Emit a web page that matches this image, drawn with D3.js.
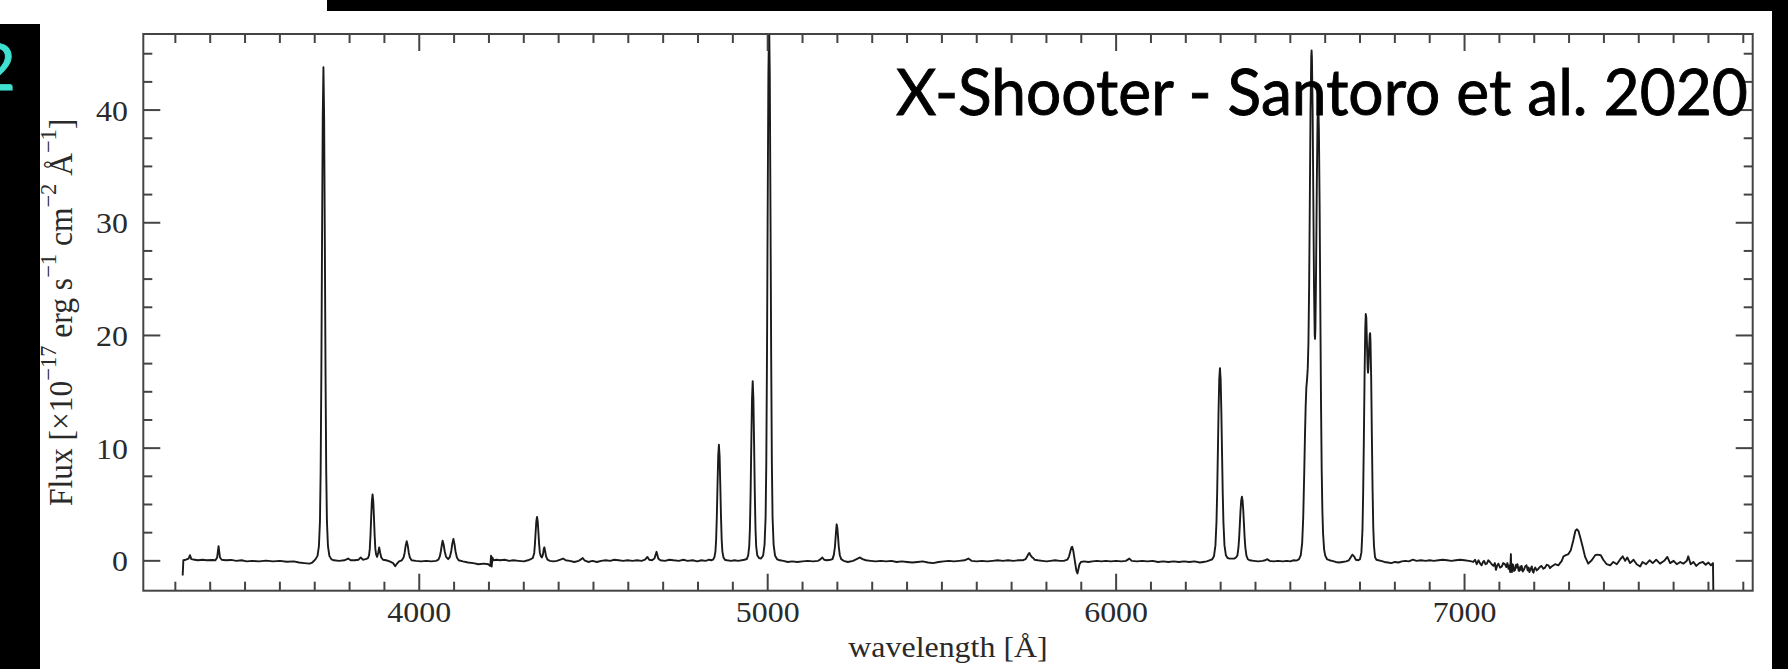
<!DOCTYPE html>
<html>
<head>
<meta charset="utf-8">
<script src="https://cdn.jsdelivr.net/npm/d3@7"></script>
<style>
  html, body { margin: 0; padding: 0; background: #fff; overflow: hidden; }
  svg { display: block; }
</style>
</head>
<body>
<svg id="chart" width="1788" height="669"></svg>
<script>
// Optical spectrum: wavelength in Å, flux in 1e-17 erg/s/cm2/Å
const wavelength = [
  3321, 3323, 3330, 3338, 3342, 3346, 3355, 3365, 3378, 3390, 3405, 3415, 3420, 3424, 3428, 3433,
  3445, 3460, 3475, 3490, 3505, 3520, 3540, 3560, 3580, 3600, 3620, 3640, 3655, 3670, 3685, 3693,
  3702, 3708, 3712, 3715, 3717, 3719, 3721, 3723, 3725, 3727, 3729, 3731, 3733, 3735, 3738, 3742, 3748,
  3755, 3770, 3785, 3796, 3803, 3815, 3826, 3832, 3838, 3846,
  3853, 3856, 3858, 3860, 3862, 3864, 3866, 3868, 3870, 3872, 3874, 3876, 3879, 3882, 3885, 3888, 3891,
  3896, 3905, 3915, 3925, 3931, 3935, 3942,
  3950, 3955, 3958, 3961, 3964, 3967, 3970, 3973, 3978, 3990, 4005, 4020, 4035, 4048,
  4055, 4059, 4062, 4065, 4067, 4070, 4073, 4077, 4083, 4088, 4092, 4095, 4098, 4101, 4104, 4108, 4113,
  4125, 4140, 4155, 4170, 4185, 4198, 4204, 4206, 4208, 4210, 4213, 4222, 4232, 4245, 4258, 4270, 4285,
  4300, 4312, 4320,
  4326, 4330, 4332, 4334, 4336, 4338, 4340, 4342, 4344, 4346, 4349, 4352, 4355, 4357, 4359, 4361, 4364, 4368,
  4375, 4385, 4395, 4405, 4413, 4420, 4432, 4445, 4458, 4465, 4469, 4474, 4485, 4497, 4510, 4522, 4535,
  4548, 4560, 4572, 4585, 4598, 4612, 4625, 4638, 4648, 4655, 4660, 4668, 4675, 4681, 4686, 4692, 4705,
  4718, 4730, 4745, 4758, 4770, 4785, 4798, 4810, 4822, 4832, 4838,
  4843, 4847, 4850, 4852, 4854, 4856, 4858, 4860, 4862, 4864, 4866, 4868, 4870, 4873, 4877, 4883,
  4895, 4905, 4915, 4925, 4933,
  4940, 4944, 4947, 4949, 4951, 4953, 4955, 4957, 4959, 4961, 4963, 4965, 4967, 4970, 4975, 4981,
  4987, 4991, 4994, 4996, 4998, 5000, 5002, 5004, 5006, 5008, 5010, 5012, 5014, 5017, 5021, 5027,
  5035, 5045, 5058, 5070, 5085, 5100, 5115, 5130, 5145, 5152, 5157, 5162, 5170, 5180,
  5186, 5190, 5193, 5195, 5197, 5198, 5200, 5202, 5204, 5207, 5211, 5218, 5230, 5245, 5258, 5265, 5272,
  5282, 5295, 5310, 5325, 5340, 5355, 5370, 5385, 5400, 5415, 5430, 5445, 5460, 5475, 5490, 5505,
  5520, 5535, 5550, 5565, 5576, 5585, 5600, 5615, 5630, 5645, 5660, 5675, 5690, 5705, 5720, 5732,
  5740, 5745, 5748, 5751, 5754, 5758, 5762, 5766, 5775, 5788, 5800, 5812, 5825, 5838, 5850,
  5860, 5865, 5869, 5872, 5874, 5877, 5880, 5883, 5886, 5889, 5892, 5895, 5899, 5908, 5920, 5932,
  5945, 5958, 5970, 5985, 6000, 6015, 6028, 6038, 6045, 6060, 6075, 6090, 6105, 6120, 6135, 6150,
  6165, 6180, 6195, 6210, 6225, 6240, 6250, 6260, 6268,
  6276, 6281, 6285, 6288, 6290, 6292, 6294, 6296, 6298, 6300, 6302, 6304, 6306, 6308, 6311, 6315,
  6320, 6326, 6333, 6339, 6344,
  6348, 6351, 6353, 6355, 6357, 6359, 6361, 6363, 6365, 6367, 6369, 6371, 6374, 6378, 6383,
  6395, 6408, 6420, 6428, 6434, 6440, 6452, 6465, 6478, 6490, 6500, 6508,
  6515, 6520, 6525, 6530, 6534, 6537, 6540, 6542, 6544, 6546, 6548, 6550, 6552, 6554, 6556, 6558,
  6560, 6561, 6562, 6564, 6566, 6568, 6570, 6571, 6572, 6574, 6576, 6578, 6580, 6582, 6584, 6586,
  6588, 6590, 6592, 6594, 6597, 6600, 6605, 6612,
  6620, 6630, 6640, 6650, 6660, 6668, 6673, 6678, 6683, 6688,
  6695, 6700, 6704, 6707, 6709, 6711, 6713, 6715, 6716.5, 6718, 6720, 6722, 6723, 6724, 6726, 6728,
  6729, 6730, 6732, 6734, 6736, 6738, 6740, 6743, 6747, 6753,
  6760, 6770, 6780, 6790, 6800, 6810, 6820, 6830, 6840, 6852, 6862, 6875, 6888, 6900, 6912, 6925,
  6938, 6950, 6962, 6975, 6988, 7000, 7012, 7020,
  7025, 7030, 7035, 7040, 7044,
  7049, 7053, 7056, 7060, 7064,
  7068, 7073, 7078, 7083, 7087,
  7090, 7094, 7097, 7102, 7107,
  7111, 7116, 7120, 7123, 7126,
  7128, 7131, 7133, 7134, 7136,
  7138, 7140, 7142, 7145, 7148,
  7150, 7152, 7155, 7157, 7160,
  7162, 7164, 7167, 7171, 7174,
  7178, 7181, 7184, 7186, 7190,
  7193, 7195, 7198, 7200, 7203,
  7207, 7212, 7216, 7221, 7226,
  7231, 7236, 7241, 7245, 7250,
  7260, 7269, 7279, 7284, 7291, 7298, 7305, 7312, 7318, 7322, 7327, 7332, 7339, 7346, 7355, 7365,
  7375, 7381, 7391, 7398, 7408, 7418, 7427, 7437, 7446, 7454, 7461, 7467, 7475, 7485, 7494, 7504,
  7511, 7521, 7531, 7540, 7550, 7561, 7573, 7582, 7590, 7600, 7609, 7619, 7628, 7638, 7642, 7649,
  7657, 7665, 7674, 7684, 7692, 7700, 7707, 7713, 7714
];

const flux = [
  -1.3, 0.05, 0.1, 0.2, 0.5, 0.15, 0.1, 0.05, 0.1, 0.05, 0.08, 0.05, 0.3, 1.3, 0.3, 0.1,
  0.05, 0.08, 0.0, 0.05, -0.05, 0.0, -0.05, 0.02, -0.05, 0.0, -0.08, -0.05, -0.15, -0.2, -0.25, -0.15,
  0.13, 0.44, 1.3, 3.5, 7.9, 16.6, 28.5, 39.4, 43.8, 39.4, 28.5, 16.6, 7.9, 3.5, 1.3, 0.44, 0.13,
  0.05, 0.0, 0.05, 0.2, 0.05, 0.05, 0.1, 0.3, 0.1, 0.15,
  0.25, 0.5, 1.06, 2.24, 3.84, 5.3, 5.9, 5.3, 3.84, 2.24, 1.06, 0.6, 0.35, 0.7, 1.18, 0.7, 0.3,
  0.1, 0.05, -0.05, -0.2, -0.47, -0.3, -0.05,
  0.05, 0.3, 0.7, 1.35, 1.75, 1.35, 0.7, 0.3, 0.05, 0.0, -0.05, 0.0, -0.05, 0.0,
  0.1, 0.4, 0.85, 1.45, 1.78, 1.45, 0.85, 0.35, 0.15, 0.35, 0.9, 1.55, 1.95, 1.5, 0.85, 0.3, 0.05,
  -0.05, -0.15, -0.2, -0.3, -0.25, -0.3, -0.45, 0.45, -0.5, 0.3, 0.05, 0.1, 0.05, 0.1, 0.0, 0.05, 0.0,
  -0.05, 0.05, 0.15,
  0.25, 0.7, 1.48, 2.54, 3.5, 3.9, 3.5, 2.54, 1.48, 0.75, 0.4, 0.3, 0.55, 1.0, 1.2, 0.9, 0.4, 0.1,
  0.0, -0.05, 0.0, 0.1, 0.2, 0.05, 0.0, -0.1, 0.0, 0.15, 0.25, 0.05, -0.1, 0.0, -0.1, 0.0, 0.05,
  0.0, 0.1, 0.05, 0.0, 0.05, 0.0, 0.05, 0.0, 0.1, 0.35, 0.1, 0.05, 0.2, 0.8, 0.2, 0.05, 0.0,
  0.1, 0.05, 0.0, 0.1, 0.0, 0.05, -0.05, 0.05, 0.0, 0.1, 0.05,
  0.1, 0.31, 0.82, 1.85, 3.9, 6.7, 9.27, 10.3, 9.27, 6.7, 3.9, 1.85, 0.82, 0.31, 0.1, 0.05,
  0.0, 0.05, 0.0, 0.05, 0.1,
  0.16, 0.48, 1.28, 2.87, 6.06, 10.4, 14.35, 15.95, 14.35, 10.4, 6.06, 2.87, 1.28, 0.5, 0.25, 0.2,
  0.48, 1.44, 3.84, 8.64, 18.2, 31.2, 43.2, 48.0, 43.2, 31.2, 18.2, 8.64, 3.84, 1.44, 0.48, 0.14,
  0.05, 0.0, -0.1, -0.05, -0.1, -0.05, 0.0, -0.05, 0.0, 0.15, 0.3, 0.1, 0.05, 0.1,
  0.15, 0.55, 1.25, 2.1, 2.9, 3.24, 2.9, 2.1, 1.25, 0.5, 0.15, 0.0, -0.1, 0.0, 0.2, 0.3, 0.15,
  0.05, 0.0, -0.05, 0.0, -0.05, 0.0, -0.1, -0.05, -0.1, -0.15, -0.1, -0.05, -0.15, -0.2, -0.1, -0.05,
  0.0, -0.05, 0.0, 0.05, 0.2, 0.0, -0.05, 0.0, -0.05, 0.0, 0.05, 0.0, 0.05, 0.0, 0.05, 0.05,
  0.15, 0.4, 0.6, 0.7, 0.5, 0.35, 0.25, 0.1, 0.05, 0.0, -0.05, 0.0, 0.05, 0.0, 0.0,
  0.1, 0.4, 0.9, 1.2, 1.24, 0.9, 0.3, -0.3, -0.9, -1.12, -0.7, -0.3, -0.1, -0.05, -0.1, -0.05,
  0.0, -0.05, 0.0, -0.05, 0.0, -0.05, 0.0, 0.2, 0.0, -0.05, 0.0, -0.05, 0.0, -0.1, -0.05, -0.1,
  -0.05, -0.1, -0.05, -0.1, -0.05, -0.15, -0.1, -0.05, 0.05,
  0.14, 0.43, 1.37, 3.4, 6.0, 9.6, 13.3, 16.1, 17.1, 16.1, 13.3, 9.6, 6.0, 3.4, 1.37, 0.5,
  0.25, 0.2, 0.2, 0.2, 0.3,
  0.46, 1.14, 1.99, 3.19, 4.44, 5.35, 5.69, 5.35, 4.44, 3.19, 1.99, 1.14, 0.46, 0.14, 0.05,
  0.0, -0.05, 0.0, 0.05, 0.15, 0.0, -0.05, 0.0, -0.05, 0.0, -0.05, 0.05,
  0.03, 0.05, 0.15, 0.5, 1.6, 3.85, 7.95, 11.1, 13.7, 15.4, 16.1, 17.1, 19.4, 24.5, 32.2, 40.2,
  44.7, 45.3, 44.6, 40.0, 32.1, 24.3, 20.0, 19.7, 20.7, 26.1, 33.4, 39.0, 41.0, 38.3, 31.7, 22.8,
  14.2, 8.1, 4.4, 2.4, 1.0, 0.48, 0.16, 0.05,
  0.0, -0.1, -0.15, -0.1, -0.05, 0.05, 0.3, 0.55, 0.4, 0.1,
  0.05, 0.15, 0.75, 2.7, 6.0, 10.7, 16.2, 20.5, 21.9, 21.6, 19.2, 17.1, 16.7, 17.1, 18.8, 20.1,
  20.2, 19.55, 16.3, 11.1, 6.4, 3.0, 1.36, 0.33, 0.1, 0.05,
  0.0, -0.1, -0.15, -0.2, -0.1, -0.15, -0.05, 0.0, -0.05, 0.1, 0.0, 0.05, 0.0, 0.05, 0.0, 0.05,
  0.1, 0.05, 0.0, 0.05, 0.1, 0.05, 0.0, -0.05,
  -0.1, 0.1, -0.3, 0.05, -0.2,
  -0.4, -0.1, 0.0, -0.3, -0.25,
  0.05, -0.1, -0.3, -0.45, -0.2,
  -0.8, -0.4, -0.25, -0.6, -0.5,
  -0.2, -0.3, -0.55, -0.2, -0.7,
  -0.4, -1.0, 0.6, -0.6, -1.0,
  -0.3, -0.4, -0.9, -0.8, -0.35,
  -0.6, -0.3, -0.85, -0.9, -0.5,
  -0.8, -0.45, -0.95, -0.75, -0.5,
  -0.4, -0.85, -0.6, -1.0, -0.7,
  -0.5, -0.9, -1.05, -0.75, -0.6,
  -0.85, -0.7, -0.55, -0.45, -0.7,
  -0.6, -0.35, -0.4, -0.65, -0.5,
  -0.3, -0.4, 0.0, 0.4, 0.5, 0.6, 0.95, 1.8, 2.65, 2.8, 2.65, 2.1, 1.25, 0.35, -0.25, 0.05,
  0.5, 0.55, 0.5, 0.1, -0.3, -0.4, -0.1, -0.3, 0.1, 0.4, 0.0, 0.3, -0.2, 0.1, -0.3, -0.5,
  -0.1, -0.3, 0.05, -0.2, 0.1, -0.25, 0.0, 0.35, -0.2, 0.0, -0.3, -0.1, -0.25, 0.0, 0.4, -0.3,
  -0.1, -0.45, -0.2, -0.1, -0.35, -0.15, -0.4, -0.2, -2.7
];

// Axis ticks
const xMajorTicks = [4000, 5000, 6000, 7000];
const xMinorTicks = d3.range(3300, 7801, 100);
const yMajorTicks = [0, 10, 20, 30, 40];
const yMinorTicks = d3.range(0, 45.1, 2.5);

const titleText = "X-Shooter - Santoro et al. 2020";

const svg = d3.select("#chart");
const W = 1788, H = 669;
const frame = { left: 143.3, right: 1752.7, top: 34, bottom: 590.7 };

const x = d3.scaleLinear().domain([3208, 7827]).range([frame.left, frame.right]);
const y = d3.scaleLinear().domain([-2.65, 46.75]).range([frame.bottom, frame.top]);

const axisColor = "#444";
const textColor = "#2a2a2a";
const serif = "'Liberation Serif', 'Times New Roman', serif";
const stretch = 1.12;

svg.append("rect").attr("width", W).attr("height", H).attr("fill", "#fff");

// Plot clip region
svg.append("defs").append("clipPath").attr("id", "plotArea")
  .append("rect")
  .attr("x", frame.left).attr("y", frame.top)
  .attr("width", frame.right - frame.left).attr("height", frame.bottom - frame.top);

// Spectrum line
const points = wavelength.map((w, i) => [w, flux[i]]);
const line = d3.line().x(d => x(d[0])).y(d => y(d[1]));
svg.append("path")
  .datum(points)
  .attr("clip-path", "url(#plotArea)")
  .attr("d", line)
  .attr("fill", "none")
  .attr("stroke", "#1a1a1a")
  .attr("stroke-width", 1.9)
  .attr("stroke-linejoin", "round");

// Ticks (inward on all four sides)
const gTicks = svg.append("g").attr("stroke", axisColor).attr("stroke-width", 2);
function tickLen(isMajor) { return isMajor ? 17 : 9; }
xMinorTicks.forEach(v => {
  const major = xMajorTicks.includes(v);
  const px = x(v);
  gTicks.append("line").attr("x1", px).attr("x2", px)
    .attr("y1", frame.bottom).attr("y2", frame.bottom - tickLen(major));
  gTicks.append("line").attr("x1", px).attr("x2", px)
    .attr("y1", frame.top).attr("y2", frame.top + tickLen(major));
});
yMinorTicks.forEach(v => {
  const major = yMajorTicks.includes(v);
  const py = y(v);
  gTicks.append("line").attr("y1", py).attr("y2", py)
    .attr("x1", frame.left).attr("x2", frame.left + tickLen(major));
  gTicks.append("line").attr("y1", py).attr("y2", py)
    .attr("x1", frame.right).attr("x2", frame.right - tickLen(major));
});

// Frame
svg.append("rect")
  .attr("x", frame.left).attr("y", frame.top)
  .attr("width", frame.right - frame.left).attr("height", frame.bottom - frame.top)
  .attr("fill", "none").attr("stroke", axisColor).attr("stroke-width", 2);

// Tick labels
svg.append("g").selectAll("text").data(xMajorTicks).join("text")
  .attr("transform", d => `translate(${x(d)},621.5) scale(${stretch},1)`)
  .attr("text-anchor", "middle")
  .attr("font-family", serif).attr("font-size", 28.5)
  .attr("fill", textColor)
  .text(d => d);

svg.append("g").selectAll("text").data(yMajorTicks).join("text")
  .attr("transform", d => `translate(128,${y(d) + 10.5}) scale(${stretch},1)`)
  .attr("text-anchor", "end")
  .attr("font-family", serif).attr("font-size", 28.5)
  .attr("fill", textColor)
  .text(d => d);

// Axis titles
svg.append("text")
  .attr("transform", `translate(${(frame.left + frame.right) / 2},657) scale(${stretch},1)`)
  .attr("text-anchor", "middle")
  .attr("font-family", serif).attr("font-size", 28.5)
  .attr("fill", textColor)
  .text("wavelength [Å]");

const yTitle = svg.append("text")
  .attr("transform", `translate(71.5,${(frame.top + frame.bottom) / 2}) rotate(-90) scale(1,1.04)`)
  .attr("text-anchor", "middle")
  .attr("font-family", serif).attr("font-size", 31.5)
  .attr("fill", textColor);
const yParts = [
  ["Flux [×10", false], ["−17", true], [" erg s", false], ["−1", true],
  [" cm", false], ["−2", true], [" Å", false], ["−1", true], ["]", false]
];
let raised = false;
yParts.forEach(([t, sup]) => {
  const ts = yTitle.append("tspan").text(t);
  if (sup) { ts.attr("font-size", 22.5).attr("dy", raised ? 0 : -15); raised = true; }
  else { if (raised) ts.attr("dy", 15); raised = false; }
});

// Title inside the plot
svg.append("text")
  .attr("x", 896).attr("y", 114.5)
  .attr("font-family", "Lato, 'Noto Sans', sans-serif")
  .attr("font-size", 64)
  .attr("textLength", 852).attr("lengthAdjust", "spacingAndGlyphs")
  .attr("fill", "#000")
  .attr("stroke", "#000").attr("stroke-width", 0.9)
  .text(titleText);

// Slide furniture: black bands and page number
svg.append("rect").attr("x", 0).attr("y", 24).attr("width", 40).attr("height", H - 24).attr("fill", "#000");
svg.append("rect").attr("x", 327).attr("y", 0).attr("width", W - 327).attr("height", 11).attr("fill", "#000");
svg.append("rect").attr("x", 1772).attr("y", 0).attr("width", W - 1772).attr("height", H).attr("fill", "#000");
svg.append("text")
  .attr("x", 15.5).attr("y", 90)
  .attr("text-anchor", "end")
  .attr("font-family", "Lato, 'Noto Sans', sans-serif")
  .attr("font-size", 64)
  .attr("fill", "#3fe0d0")
  .attr("stroke", "#3fe0d0").attr("stroke-width", 0.9)
  .text("2");
</script>
</body>
</html>
